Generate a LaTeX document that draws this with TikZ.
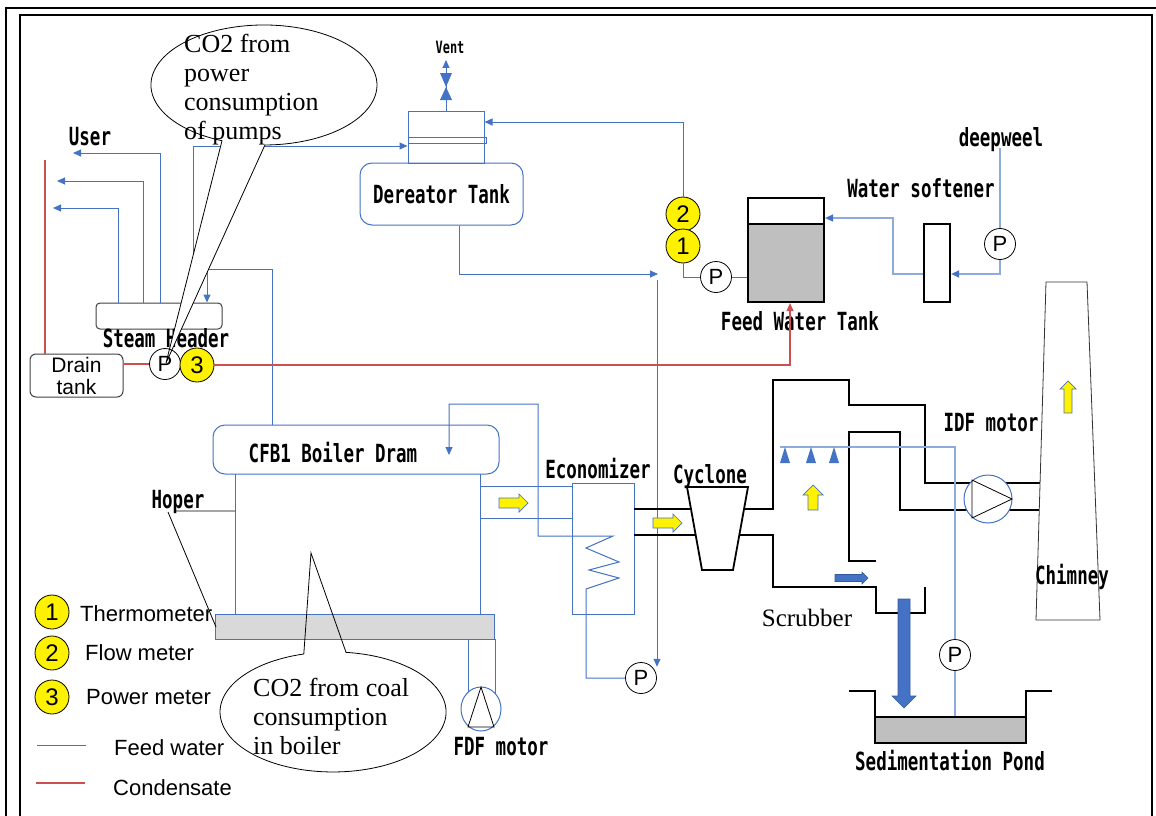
\documentclass[tikz,border=0pt]{standalone}
\usepackage{fontspec}
\setmainfont{Liberation Serif}
\newfontfamily\gothic[FakeStretch=0.7]{DejaVu Sans Mono}
\newfontfamily\sansjp{Liberation Sans}
\usetikzlibrary{arrows.meta,shapes.geometric}
\definecolor{feedblue}{RGB}{68,114,196}
\definecolor{paleblue}{RGB}{143,170,220}
\definecolor{condred}{RGB}{205,80,80}
\definecolor{watergray}{RGB}{191,191,191}
\definecolor{grategray}{RGB}{217,217,217}

\begin{document}
\begin{tikzpicture}[x=1pt,y=-1pt,
  pipe/.style={draw=feedblue,line width=1pt},
  palepipe/.style={draw=paleblue,line width=1.3pt},
  drainline/.style={draw=condred,line width=1.1pt},
  flow/.style={-{Triangle[length=8pt,width=7pt,color=feedblue]}},
  cflow/.style={-{Triangle[length=8pt,width=7pt]}},
  wall/.style={draw=black,line width=1.8pt},
  leader/.style={draw=black,line width=0.8pt},
  tag/.style={font=\gothic\bfseries\fontsize{25}{27}\selectfont,inner sep=0pt},
  legend/.style={font=\sansjp\fontsize{22}{24}\selectfont,inner sep=0pt,anchor=west},
  note/.style={font=\fontsize{26}{29}\selectfont,align=left,inner sep=0pt,anchor=west},
  pump/.style={circle,draw,line width=0.8pt,fill=white,minimum size=31pt,inner sep=0pt,font=\sansjp\fontsize{22}{22}\selectfont},
  meter/.style={circle,draw,line width=0.8pt,fill=yellow,minimum size=34pt,inner sep=0pt,font=\sansjp\fontsize{24}{24}\selectfont},
  vessel/.style={rectangle,draw=feedblue,line width=1pt,inner sep=0pt},
  heat/.style={fill=yellow,draw=feedblue,line width=0.7pt},
  water/.style={fill=feedblue,draw=feedblue!80!black,line width=0.6pt},
  pics/block/.style n args={3}{code={
    \path[pic actions] ({-#1/2},{-#2/2}) -- ({#1/2-#3/2},{-#2/2}) -- ({#1/2-#3/2},{-#3/2})
      -- ({#1/2},0) -- ({#1/2-#3/2},{#3/2}) -- ({#1/2-#3/2},{#2/2}) -- ({-#1/2},{#2/2}) -- cycle;}}
]
\useasboundingbox (0,0) rectangle (1156,816);
\draw[line width=2.5pt] (6,816) -- (6,8) -- (1156,8);
\draw[line width=2pt] (20,816) -- (20,15) -- (1152,15) -- (1152,816);

\fill[watergray] (748,224) rectangle (824,302);
\node[rectangle,draw,line width=2.2pt,minimum width=76pt,minimum height=104pt,inner sep=0pt] (fwt) at (786,250) {};
\draw[line width=2.2pt] (748,224) -- (824,224);
\node[rectangle,draw,line width=2.2pt,fill=white,minimum width=26pt,minimum height=78pt,inner sep=0pt] (soft) at (937,263) {};

\node[vessel,rounded corners=12pt,minimum width=163pt,minimum height=62pt,tag] (dea) at (441.5,194) {Dereator Tank};
\node[vessel,minimum width=76pt,minimum height=52pt] (col) at (446,137) {};
\draw[pipe] (408,137) rectangle (486,143);
\node[rectangle,rounded corners=4pt,draw=black!75,line width=1pt,minimum width=126pt,minimum height=26pt] (header) at (159,316) {};
\node[rectangle,rounded corners=6pt,draw=black!75,line width=1pt,minimum width=93pt,minimum height=43pt,inner sep=0pt,align=center,font=\sansjp\fontsize{21}{22}\selectfont] (drain) at (76.5,375.5) {Drain\\tank};
\node[vessel,rounded corners=12pt,minimum width=286pt,minimum height=49pt] (drum) at (356,449.5) {};
\node[vessel,fill=grategray,minimum width=279pt,minimum height=25pt] (grate) at (354.5,626.5) {};
\node[vessel,minimum width=62pt,minimum height=131pt] (eco) at (603,548.5) {};
\node[ellipse,draw=feedblue,line width=1pt,minimum width=40pt,minimum height=44pt,inner sep=0pt] (fdf) at (481,709) {};

\node[pump] (p2) at (716,277) {P};
\node[pump] (p3) at (1000,244) {P};
\node[pump] (p4) at (641,678) {P};
\node[pump] (p5) at (955,655) {P};
\node[meter] (m2) at (683,214) {2};
\node[meter] (m1) at (683,246) {1};

\draw[pipe,flow] ([xshift=1pt]header.north) |- (73,153);
\draw[pipe,flow] ([xshift=-16pt]header.north) |- (57,181);
\draw[pipe,flow] ([xshift=-41pt]header.north) |- (53,208);
\draw[pipe,flow] ([xshift=34pt]header.north) |- ([yshift=-9pt]col.west);
\draw[pipe,flow] ([xshift=-84pt]drum.north) |- (207,269) -- ([xshift=48pt]header.north);
\draw[pipe,flow] (col.north) -- (446,60);
\fill[feedblue] (440,73) -- (452,73) -- (446,87) -- cycle (446,87) -- (440,100) -- (452,100) -- cycle;
\draw[pipe,flow] (m2.north) |- ([yshift=15pt]col.east);
\draw[pipe] (m1.south) |- (p2.west);
\draw[pipe] (p2.east) -- (fwt.west |- p2.east);
\draw[pipe,flow] ([xshift=17.5pt]dea.south) |- (658,274);
\coordinate (ecofeed) at (657,280);
\draw[pipe,flow] (ecofeed) -- (ecofeed |- p4.north east);
\draw[pipe,flow] (p4.west) -| (586,589) -- (619,578) -- (589,570) -- (619,562) -- (586,548) -- (613,536) -- (538,536) -- (538,404) -| (449,455);

\draw[pipe] (235,474) -- (235,614) (480,474) -- (480,614);
\draw[pipe] (480,486) -- (572,486) (480,518) -- (572,518);
\draw[pipe] (468,639) -- (468,692) (495,639) -- (495,693);
\draw[leader] (481,687) -- (494,727) -- (468,727) -- cycle;
\draw[leader] (175,511) -- (235,511) (168,512) -- (216,627);

\draw[palepipe,flow] ([yshift=-11pt]soft.west) -| (893,218) -- ([yshift=32pt]fwt.east);
\draw[palepipe] (1000,148) -- (p3.north);
\draw[palepipe,flow] (p3.south) |- ([yshift=-11pt]soft.east);

\coordinate (redtop) at (45,160);
\draw[drainline] (redtop) -- (redtop |- drain.north);

\draw[wall] (687,487) -- (748,487) -- (733,570) -- (702,570) -- cycle;
\draw[wall] (634,509) -- (691,509) (634,535) -- (696,535);
\draw[wall] (744,509) -- (773,509) -- (773,380) -- (849,380) -- (849,405) -- (925,405) -- (925,483) -- (1040,483);
\draw[wall] (739,535) -- (773,535) -- (773,587) -- (876,587) -- (876,613) -- (925,613) -- (925,587);
\draw[wall] (876,561) -- (849,561) -- (849,432) -- (900,432) -- (900,510) -- (1039,510);
\node[circle,draw=feedblue,line width=1pt,fill=white,minimum size=48pt,inner sep=0pt] (idf) at (988,499) {};
\draw[leader] (972,480) -- (1012,499) -- (972,518) -- cycle;

\draw[palepipe] (780,447) -- (955,447) -- (p5.north);
\draw[palepipe] (p5.south) -- (955,723);
\foreach \x in {785,811,834}
  \fill[feedblue] (\x,447) -- (\x-5,463) -- (\x+5,463) -- cycle;

\fill[watergray] (875,717) rectangle (1026,743);
\draw[wall] (849,691) -| (875,743) -| (1026,691) -- (1052,691);
\draw[wall] (875,717) -- (1026,717);
\draw[line width=0.8pt,black!80] (1046,282) -- (1087,282) -- (1100,620) -- (1036,620) -- cycle;

\pic[heat] (boilgas) at (513.5,503) {block={29}{10}{18}};
\pic[heat] (ecogas) at (667.5,523) {block={29}{10}{18}};
\pic[heat,rotate=90] (scrubgas) at (813,497.5) {block={25}{10}{20}};
\pic[heat,rotate=90] (stackgas) at (1068,397) {block={32}{8}{16}};
\pic[water] (slurry) at (851.5,578) {block={33}{7}{12}};
\pic[water,rotate=-90] (drop) at (904,653.5) {block={109}{12}{24}};

\node[tag] (user) at (90,137) {User};
\node[tag,font=\gothic\bfseries\fontsize{17}{19}\selectfont] (vent) at (450,47) {Vent};
\node[tag] (hdrlbl) at (166,338) {Steam Header};
\node[tag] (fwtlbl) at (800,321) {Feed Water Tank};
\node[tag] (softlbl) at (921,188) {Water softener};
\node[tag] (well) at (1001,140) {deepweel};
\node[tag] (drumlbl) at (333,453) {CFB1 Boiler Dram};
\node[tag] (ecolbl) at (598,469) {Economizer};
\node[tag] (cyclbl) at (710,477) {Cyclone};
\node[tag] (idflbl) at (991,423) {IDF motor};
\node[tag] (chimlbl) at (1072,577) {Chimney};
\node[tag] (pondlbl) at (950,761) {Sedimentation Pond};
\node[tag] (fdflbl) at (501,747) {FDF motor};
\node[tag] (hoper) at (178,502) {Hoper};
\node[inner sep=0pt,font=\fontsize{25}{27}\selectfont] (scrublbl) at (807,618) {Scrubber};

\node[meter] (l1) at (52,612) {1};
\node[meter] (l2) at (52,653) {2};
\node[meter] (l3) at (52,697) {3};
\node[legend] at (80,614) {Thermometer};
\node[legend] at (85,653) {Flow meter};
\node[legend] at (86,697) {Power meter};
\draw[pipe] (37,745) -- (86,745);
\node[legend] at (114,748) {Feed water};
\draw[drainline] (36,783) -- (85,783);
\node[legend] at (113,788) {Condensate};

\draw[leader,fill=white] (166,363) -- (222.0,140.7) arc[start angle=248.2,end angle=-89.5,x radius=113pt,y radius=60pt] -- cycle;
\node[note] (pumpco2) at (184,89.5) {CO2 from\\power\\consumption\\of pumps};
\draw[leader] (311,553) -- (303.8,654.0) arc[start angle=105,end angle=443.4,x radius=113pt,y radius=60pt] -- cycle;
\node[note] (coalco2) at (253,716) {CO2 from coal\\consumption\\in boiler};

\node[pump,fill=none] (p1) at (165,364) {P};
\node[meter] (m3) at (197,365) {3};
\draw[drainline] (drain.east |- p1.west) -- (p1.west);
\draw[drainline,cflow] (m3.east) -| ([xshift=4pt]fwt.south);
\end{tikzpicture}
\end{document}
